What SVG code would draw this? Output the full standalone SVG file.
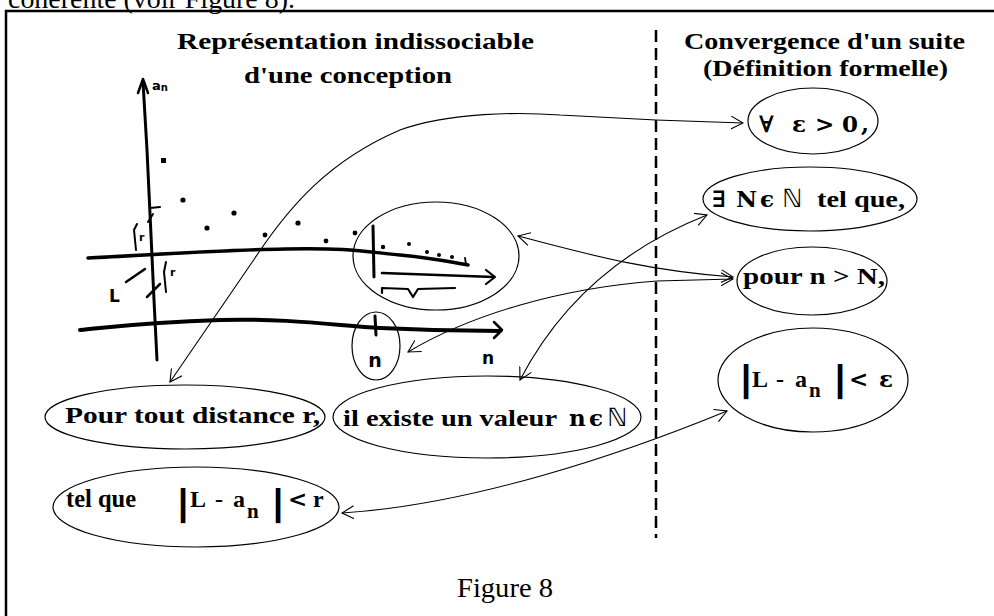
<svg xmlns="http://www.w3.org/2000/svg" width="994" height="616" viewBox="0 0 994 616">
<style>
.b{font-family:"Liberation Serif","DejaVu Serif",serif;font-weight:bold;font-size:24px;fill:#000}
.m{font-family:"DejaVu Serif","Liberation Serif",serif;font-weight:bold;font-size:23px;fill:#000}
.dn{font-family:"DejaVu Sans","Noto Sans",sans-serif;font-size:25px;fill:#000}
.bar{font-family:"Liberation Sans",Arial,sans-serif;font-weight:bold;font-size:36px;fill:#000}
.reg{font-family:"Liberation Serif","Times New Roman",serif;font-size:28px;fill:#000}
.hw{font-family:"DejaVu Sans",sans-serif;font-weight:bold;fill:#000}
.sub{font-size:21px}
.el{fill:none;stroke:#000;stroke-width:1.2}
.c{fill:none;stroke:#000;stroke-width:1.1}
.sk{fill:none;stroke:#000;stroke-linecap:round;stroke-linejoin:round}
.dot{fill:#000}
</style>
<defs>
<marker id="ah" viewBox="0 0 13 14" refX="12" refY="7" markerWidth="13" markerHeight="14" markerUnits="userSpaceOnUse" orient="auto-start-reverse">
<path d="M0,0.5 L12,7 L0,13.5" fill="none" stroke="#000" stroke-width="1.1"/>
</marker>
</defs>
<rect width="994" height="616" fill="#fff"/>

<text class="reg" x="8" y="8" textLength="287" lengthAdjust="spacingAndGlyphs">cohérente (voir Figure 8).</text>

<g id="frame">
<path d="M6,616 L6,11 L994,11" fill="none" stroke="#000" stroke-width="2.5"/>
<line x1="656" y1="30" x2="656" y2="538" stroke="#000" stroke-width="2.5" stroke-dasharray="12 6"/>
</g>

<g id="titles">
<text class="b" x="177" y="49" textLength="357" lengthAdjust="spacingAndGlyphs">Représentation indissociable</text>
<text class="b" x="244" y="83" textLength="208" lengthAdjust="spacingAndGlyphs">d'une conception</text>
<text class="b" x="684" y="49" textLength="281" lengthAdjust="spacingAndGlyphs">Convergence d'un suite</text>
<text class="b" x="703" y="76" textLength="245" lengthAdjust="spacingAndGlyphs">(Définition formelle)</text>
</g>

<g id="sketch">
<path class="sk" stroke-width="3" d="M157,360 L154,300 L151,235 L147,150 L143,82"/>
<path class="sk" stroke-width="2.5" d="M138,93 L143,79 L148,93"/>
<text class="hw" x="152" y="90" style="font-size:13px">a<tspan style="font-size:10px" dy="1">n</tspan></text>
<path class="sk" stroke-width="3.5" d="M88,258 C 150,255 220,250 285,249 S 360,251 400,255 S 450,262 468,265"/>
<path class="sk" stroke-width="4" d="M80,330 C 120,326 150,322 220,320 S 340,326 380,328 S 460,331 500,331"/>
<path class="sk" stroke-width="2.5" d="M494,322 L502,330 L494,338"/>
<path class="sk" stroke-width="2" d="M150,208 L160,207"/>
<path class="sk" stroke-width="2" d="M148,222 L153,214"/>
<path class="sk" stroke-width="2" d="M137,224 L134,230 L136,250"/>
<text class="hw" x="139" y="241" style="font-size:11px">r</text>
<path class="sk" stroke-width="2" d="M166,262 L164,272 L166,292"/>
<text class="hw" x="170" y="276" style="font-size:11px">r</text>
<path class="sk" stroke-width="2.5" d="M147,297 L160,284"/>
<path class="sk" stroke-width="2.5" d="M126,282 L145,269"/>
<text class="hw" x="109" y="302" style="font-size:17px">L</text>
<rect x="161" y="158" width="5" height="5" class="dot"/>
<circle cx="183" cy="200" r="2.6" class="dot"/>
<circle cx="207" cy="228" r="2.6" class="dot"/>
<circle cx="234" cy="213" r="2.6" class="dot"/>
<circle cx="265" cy="235" r="2.4" class="dot"/>
<circle cx="298" cy="223" r="2.6" class="dot"/>
<circle cx="326" cy="241" r="2.4" class="dot"/>
<circle cx="355" cy="233" r="2.4" class="dot"/>
<circle cx="383" cy="247" r="2.2" class="dot"/>
<circle cx="409" cy="244" r="2" class="dot"/>
<circle cx="427" cy="252" r="2" class="dot"/>
<circle cx="439" cy="255" r="2" class="dot"/>
<circle cx="452" cy="257" r="2" class="dot"/>
<path class="sk" stroke-width="1.8" d="M465,258 L466,264"/>
<path class="sk" stroke-width="3" d="M373,226 L374,277"/>
<path class="sk" stroke-width="2.5" d="M382,273 L494,277"/>
<path class="sk" stroke-width="2.2" d="M486,270 L495,277 L486,284"/>
<path class="sk" stroke-width="2.2" d="M382,293 L382,288 L408,289 L413,297 L418,289 L455,288"/>
<path class="sk" stroke-width="3" d="M375,316 L376,335"/>
<text class="hw" x="488" y="364" style="font-size:17px" text-anchor="middle">n</text>
</g>

<g id="tail-ellipse"><ellipse class="el" cx="436" cy="256" rx="83" ry="54"/></g>
<g id="n-ellipse"><ellipse class="el" cx="376" cy="346" rx="24" ry="34"/>
<text class="hw" x="375" y="367" style="font-size:19px" text-anchor="middle">n</text></g>

<g id="forall">
<ellipse class="el" cx="813" cy="121" rx="65" ry="33"/>
<text class="m" y="132"><tspan x="759">∀</tspan><tspan x="792">ε</tspan><tspan x="815">&gt;</tspan><tspan x="842">0</tspan><tspan x="861">,</tspan></text>
</g>
<g id="exists">
<ellipse class="el" cx="810" cy="199" rx="107" ry="32"/>
<text class="m" y="207"><tspan x="712">∃</tspan><tspan x="736">N</tspan><tspan x="760">ϵ</tspan></text>
<text class="dn" x="782" y="207">ℕ</text>
<text class="b" x="817" y="207" textLength="88" lengthAdjust="spacingAndGlyphs">tel que,</text>
</g>
<g id="pour-n">
<ellipse class="el" cx="812" cy="281" rx="75" ry="34"/>
<text class="b" x="743" y="284" textLength="142" lengthAdjust="spacingAndGlyphs">pour n &gt; N,</text>
</g>
<g id="abs-eps">
<ellipse class="el" cx="813" cy="380" rx="95" ry="52"/>
<text class="bar" x="741" y="391">|</text>
<text class="b" x="752" y="387">L</text>
<text class="b" x="776" y="387">-</text>
<text class="b" x="795" y="387">a</text>
<text class="b sub" x="809" y="397">n</text>
<text class="bar" x="835" y="391">|</text>
<text class="m" x="849" y="387">&lt;</text>
<text class="m" x="879" y="387">ε</text>
</g>
<g id="pour-tout">
<ellipse class="el" cx="185" cy="417" rx="140" ry="32"/>
<text class="b" x="65" y="423" textLength="255" lengthAdjust="spacingAndGlyphs">Pour tout distance r,</text>
</g>
<g id="il-existe">
<ellipse class="el" cx="487" cy="417" rx="154" ry="41"/>
<text class="b" x="343" y="426" textLength="214" lengthAdjust="spacingAndGlyphs">il existe un valeur</text>
<text class="m" y="426"><tspan x="569">n</tspan><tspan x="589">ϵ</tspan></text>
<text class="dn" x="607" y="426">ℕ</text>
</g>
<g id="tel-que">
<ellipse class="el" cx="196" cy="507" rx="143" ry="40"/>
<text class="b" x="66" y="507" style="font-size:26px" textLength="70" lengthAdjust="spacingAndGlyphs">tel que</text>
<text class="bar" x="178" y="515">|</text>
<text class="b" x="190" y="507">L</text>
<text class="b" x="215" y="507">-</text>
<text class="b" x="233" y="507">a</text>
<text class="b sub" x="247" y="518">n</text>
<text class="bar" x="273" y="515">|</text>
<text class="m" x="288" y="507">&lt;</text>
<text class="b" x="313" y="507">r</text>
</g>

<g id="connectors">
<path class="c" marker-start="url(#ah)" marker-end="url(#ah)" d="M170,382 L255,258 C 290,205 330,160 400,130 C 450,112 520,112 560,115 L656,120 L743,123"/>
<path class="c" marker-start="url(#ah)" marker-end="url(#ah)" d="M520,380 Q 580,265 707,215"/>
<path class="c" marker-start="url(#ah)" marker-end="url(#ah)" d="M518,236 C 580,252 640,270 733,277"/>
<path class="c" marker-start="url(#ah)" marker-end="url(#ah)" d="M408,352 C 470,315 560,288 657,281 L733,279"/>
<path class="c" marker-start="url(#ah)" marker-end="url(#ah)" d="M342,513 C 470,505 620,455 727,411"/>
</g>

<text class="reg" x="457" y="597" textLength="96" lengthAdjust="spacingAndGlyphs">Figure 8</text>
</svg>
